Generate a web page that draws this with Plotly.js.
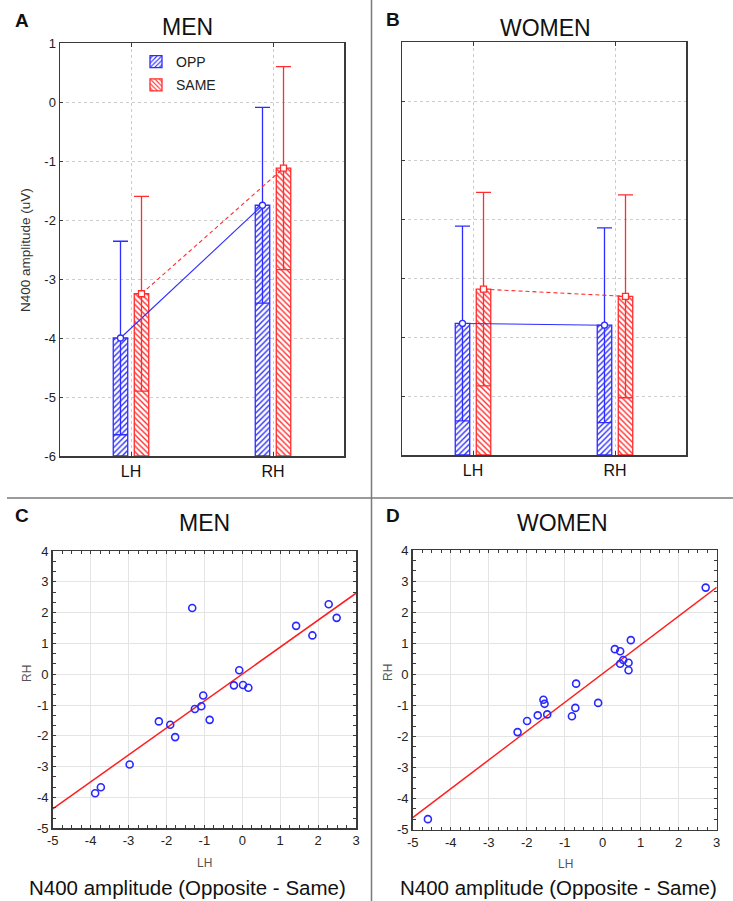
<!DOCTYPE html>
<html><head><meta charset="utf-8">
<script src="https://cdn.plot.ly/plotly-3.0.1.min.js"></script>
<style>html,body{margin:0;padding:0;background:#fff}</style>
</head><body><div id="chart" style="width:733px;height:901px"></div>
<script>
// ---------- data ----------
const categories = ['LH', 'RH'];
const seriesNames = ['OPP', 'SAME'];

const menOppMean = [-4.00, -1.75];
const menOppErr = [1.64, 1.66];
const menSameMean = [-3.25, -1.12];
const menSameErr = [1.65, 1.72];

const womenOppMean = [-3.77, -3.80];
const womenOppErr = [1.65, 1.65];
const womenSameMean = [-3.19, -3.31];
const womenSameErr = [1.64, 1.72];

const menLH = [-1.32, 2.28, 2.49, 1.42, 1.85, -0.08, -0.22, 0.02, 0.16, -1.03, -1.08, -1.25, -0.86, -2.20, -1.90, -1.77, -2.97, -3.73, -3.88];
const menRH = [2.15, 2.27, 1.83, 1.57, 1.26, 0.13, -0.36, -0.35, -0.44, -0.69, -1.04, -1.13, -1.48, -1.53, -1.64, -2.04, -2.93, -3.67, -3.86];
const menFitX = [-5, 3];
const menFitY = [-4.37, 2.63];

const womenLH = [2.71, 0.74, 0.32, 0.46, 0.54, 0.46, 0.68, 0.68, -0.70, -1.56, -1.53, -0.12, -0.72, -1.71, -1.46, -0.81, -1.99, -2.24, -4.60];
const womenRH = [2.79, 1.10, 0.81, 0.74, 0.46, 0.34, 0.37, 0.13, -0.30, -0.82, -0.95, -0.92, -1.08, -1.32, -1.29, -1.35, -1.50, -1.86, -4.66];
const womenFitX = [-5, 3];
const womenFitY = [-4.61, 2.80];

// tick labels (plain hyphen minus, as in the picture)
const barYTicks = [-6, -5, -4, -3, -2, -1, 0, 1];
const barYTickText = ['-6', '-5', '-4', '-3', '-2', '-1', '0', '1'];
const scXTicks = [-5, -4, -3, -2, -1, 0, 1, 2, 3];
const scXTickText = ['-5', '-4', '-3', '-2', '-1', '0', '1', '2', '3'];
const scYTicks = [-5, -4, -3, -2, -1, 0, 1, 2, 3, 4];
const scYTickText = ['-5', '-4', '-3', '-2', '-1', '0', '1', '2', '3', '4'];

// ---------- styling ----------
const W = 733, H = 901;
const FONT = 'Arial, "Liberation Sans", sans-serif';
const BLUE = 'rgb(45,45,255)';
const RED = 'rgb(255,45,45)';
const BAR_BASE = -6;
const BAR_W = 0.102;
const CENTER = {OPP: -0.074, SAME: 0.074};
const px = x => x / W;
const py = y => 1 - y / H;
const catIdx = categories.map((c, i) => i);

function barTraces(oppMean, oppErr, sameMean, sameErr, xa, ya, showLegend) {
  const out = [];
  const defs = [
    {name: seriesNames[0], mean: oppMean, err: oppErr, color: BLUE, shape: '/', c: CENTER.OPP, sym: 'circle', dash: 'solid'},
    {name: seriesNames[1], mean: sameMean, err: sameErr, color: RED, shape: '\\', c: CENTER.SAME, sym: 'square', dash: '4px,3px'}
  ];
  defs.forEach(d => {
    out.push({
      type: 'bar', name: d.name, legendgroup: d.name, showlegend: showLegend,
      x: catIdx, y: d.mean.map(v => v - BAR_BASE), base: BAR_BASE,
      width: BAR_W, offset: d.c - BAR_W / 2,
      xaxis: xa, yaxis: ya,
      marker: {color: 'white', line: {color: d.color, width: 1.3},
        pattern: {shape: d.shape, fgcolor: d.color, bgcolor: 'white', size: 4, solidity: 0.35}},
      hoverinfo: 'skip'
    });
  });
  defs.forEach(d => {
    out.push({
      type: 'scatter', mode: 'lines+markers', name: d.name, legendgroup: d.name, showlegend: false,
      x: catIdx.map(i => i + d.c), y: d.mean,
      xaxis: xa, yaxis: ya,
      line: {color: d.color, width: 1.1, dash: d.dash},
      marker: {symbol: d.sym, size: 6, color: 'white', line: {color: d.color, width: 1.3}},
      error_y: {type: 'data', array: d.err, visible: true, color: d.color, thickness: 1.3, width: 7.5},
      hoverinfo: 'skip'
    });
  });
  return out;
}

function scatterTraces(lx, ry, fx, fy, xa, ya) {
  return [
    {type: 'scatter', mode: 'lines', x: fx, y: fy, xaxis: xa, yaxis: ya,
      line: {color: 'rgb(255,30,30)', width: 1.5}, showlegend: false, hoverinfo: 'skip'},
    {type: 'scatter', mode: 'markers', x: lx, y: ry, xaxis: xa, yaxis: ya,
      marker: {symbol: 'circle-open', size: 7, color: 'rgb(40,40,255)', line: {width: 1.6}},
      showlegend: false, hoverinfo: 'skip'}
  ];
}

const data = [].concat(
  barTraces(menOppMean, menOppErr, menSameMean, menSameErr, 'x', 'y', true),
  barTraces(womenOppMean, womenOppErr, womenSameMean, womenSameErr, 'x2', 'y2', false),
  scatterTraces(menLH, menRH, menFitX, menFitY, 'x3', 'y3'),
  scatterTraces(womenLH, womenRH, womenFitX, womenFitY, 'x4', 'y4')
);

const AXLINE = '#3a3a3a';
function barX(domain, anchor) {
  return {domain: domain, anchor: anchor, range: [-0.5, 1.5], tickvals: catIdx, ticktext: categories,
    showgrid: true, gridcolor: '#cccccc', griddash: 'dot', gridwidth: 1, zeroline: false,
    showline: true, linecolor: AXLINE, linewidth: 1.5, mirror: 'ticks', ticks: 'inside', ticklen: 4,
    tickcolor: AXLINE, tickfont: {family: FONT, size: 16, color: '#111'}, fixedrange: true};
}
function barY(domain, anchor, labels) {
  return {domain: domain, anchor: anchor, range: [-6, 1], tickvals: barYTicks, ticktext: barYTickText,
    showgrid: true, gridcolor: '#cccccc', griddash: 'dot', gridwidth: 1, zeroline: false,
    showline: true, linecolor: AXLINE, linewidth: 1.5, mirror: true, ticks: 'inside', ticklen: 3,
    tickcolor: AXLINE, showticklabels: labels, tickfont: {family: FONT, size: 13, color: '#222'}, fixedrange: true};
}
function rightTicks(overlay, anchor) {
  return {overlaying: overlay, anchor: anchor, side: 'right', range: [0, 9], dtick: 1,
    ticks: 'inside', ticklen: 5, tickcolor: AXLINE, showticklabels: false, showgrid: false,
    zeroline: false, showline: false, fixedrange: true};
}
function scX(domain, anchor) {
  return {domain: domain, anchor: anchor, range: [-5, 3], tickvals: scXTicks, ticktext: scXTickText,
    showgrid: true, gridcolor: '#e4e4e4', gridwidth: 1, zeroline: false,
    showline: true, linecolor: AXLINE, linewidth: 1.5, mirror: 'allticks', ticks: 'inside', ticklen: 3,
    tickcolor: AXLINE, minor: {dtick: 0.25, tick0: 0, ticks: 'inside', ticklen: 3, tickcolor: AXLINE, showgrid: false},
    tickfont: {family: FONT, size: 13, color: '#222'}, fixedrange: true};
}
function scY(domain, anchor) {
  return {domain: domain, anchor: anchor, range: [-5, 4], tickvals: scYTicks, ticktext: scYTickText,
    showgrid: true, gridcolor: '#e4e4e4', gridwidth: 1, zeroline: false,
    showline: true, linecolor: AXLINE, linewidth: 1.5, mirror: 'allticks', ticks: 'inside', ticklen: 3,
    tickcolor: AXLINE, minor: {dtick: 1 / 3, tick0: 0, ticks: 'inside', ticklen: 3, tickcolor: AXLINE, showgrid: false},
    tickfont: {family: FONT, size: 13, color: '#222'}, fixedrange: true};
}

const domA_x = [px(60), px(344)], domA_y = [py(456), py(43)];
const domB_x = [px(402), px(686)], domB_y = [py(455), py(42)];
const domC_x = [px(52.7), px(356)], domC_y = [py(828.3), py(551)];
const domD_x = [px(412.7), px(716.7)], domD_y = [py(829.7), py(550)];

function ann(text, x, y, size, opts) {
  return Object.assign({text: text, x: px(x), y: py(y), xref: 'paper', yref: 'paper',
    showarrow: false, xanchor: 'center', yanchor: 'middle',
    font: {family: FONT, size: size, color: '#111'}}, opts || {});
}

const layout = {
  width: W, height: H, margin: {l: 0, r: 0, t: 0, b: 0},
  paper_bgcolor: 'white', plot_bgcolor: 'white',
  barmode: 'overlay', showlegend: true,
  legend: {x: px(136), y: py(46), xanchor: 'left', yanchor: 'top', bgcolor: 'rgba(0,0,0,0)',
    font: {family: FONT, size: 14, color: '#222'}, itemwidth: 30, tracegroupgap: 2, itemclick: false},
  xaxis: barX(domA_x, 'y'), yaxis: barY(domA_y, 'x', true),
  xaxis2: barX(domB_x, 'y2'), yaxis2: barY(domB_y, 'x2', false),
  xaxis3: scX(domC_x, 'y3'), yaxis3: scY(domC_y, 'x3'),
  xaxis4: scX(domD_x, 'y4'), yaxis4: scY(domD_y, 'x4'),
  yaxis5: rightTicks('y', 'x'), yaxis6: rightTicks('y2', 'x2'),
  annotations: [
    ann('<b>A</b>', 22, 20, 19), ann('<b>B</b>', 393, 19, 19),
    ann('<b>C</b>', 22, 515, 19), ann('<b>D</b>', 393, 515, 19),
    ann('MEN', 187, 27, 23), ann('WOMEN', 545, 28, 23),
    ann('MEN', 204, 523, 23), ann('WOMEN', 562, 523, 23),
    ann('N400 amplitude (uV)', 26, 250, 13.5, {textangle: -90, font: {family: FONT, size: 13.5, color: '#333'}}),
    ann('RH', 27, 673, 12, {textangle: -90, font: {family: FONT, size: 12, color: '#555'}}),
    ann('RH', 388, 673, 12, {textangle: -90, font: {family: FONT, size: 12, color: '#555'}}),
    ann('LH', 204, 863, 12, {font: {family: FONT, size: 12, color: '#555'}}),
    ann('LH', 565, 864, 12, {font: {family: FONT, size: 12, color: '#555'}}),
    ann('N400 amplitude (Opposite - Same)', 187, 887, 20.5),
    ann('N400 amplitude (Opposite - Same)', 558, 887, 20.5)
  ],
  shapes: [
    {type: 'line', xref: 'paper', yref: 'paper', x0: px(371.5), x1: px(371.5), y0: 0, y1: 1,
      line: {color: '#7a7a7a', width: 1.5}},
    {type: 'line', xref: 'paper', yref: 'paper', x0: px(7), x1: 1, y0: py(498), y1: py(498),
      line: {color: '#7a7a7a', width: 1.5}}
  ]
};

Plotly.newPlot('chart', data, layout, {staticPlot: true, displayModeBar: false});
</script>
</body></html>
